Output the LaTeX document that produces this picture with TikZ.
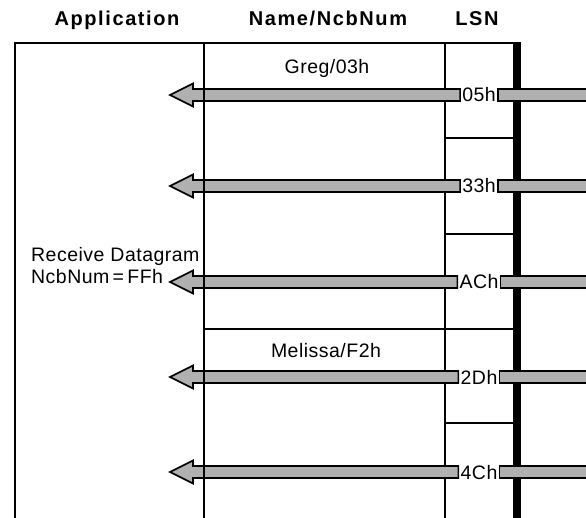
\documentclass[tikz,border=0pt]{standalone}
\usepackage{fontspec}
\setmainfont{Liberation Sans}
\newfontfamily\hdrfont[LetterSpace=8]{Liberation Sans}
\newfontfamily\bodyfont[LetterSpace=2.5]{Liberation Sans}
\tikzset{
  hdr/.style={font=\hdrfont\bfseries\fontsize{20}{24}\selectfont, anchor=base, inner sep=0pt},
  txt/.style={font=\bodyfont\fontsize{19.5}{23}\selectfont, anchor=base, inner sep=0pt},
  frame/.style={line width=2pt},
  grid/.style={line width=1.1pt},
  shaft/.style={fill=black!31, draw=black, line width=1.6pt, line join=miter},
}
\newcommand\lsnrow[3]{%
  \node[txt] (#1) at (479,#2+7) {#3};
  \path[shaft] ([xshift=-2pt]#1.west |- 0,#2-6) -- (193,#2-6) -- (193,#2-11.5) -- (170,#2)
     -- (193,#2+11.5) -- (193,#2+6) -- ([xshift=-2pt]#1.west |- 0,#2+6) -- cycle;
  \path[shaft] ([xshift=2pt]#1.east |- 0,#2-6) rectangle (592,#2+6);
}
\begin{document}
\begin{tikzpicture}[x=1pt,y=-1pt]
\useasboundingbox (0,0) rectangle (586,518);
\clip (0,0) rectangle (586,518);
\fill[white] (0,0) rectangle (586,518);
% headers
\node[hdr] (happ) at (117,26) {Application};
\node[hdr] (hname) at (328,26) {Name/NcbNum};
\node[hdr] (hlsn) at (477,26) {LSN};
% frame
\draw[frame] (15,520) -- (15,43) -- (517,43);
\draw[grid] (445,43) -- (445,520);
\draw[grid] (445,138) -- (514,138);
\draw[grid] (445,234) -- (514,234);
\draw[grid] (204,329) -- (514,329);
\draw[grid] (445,423) -- (514,423);
\fill[black] (513,42) rectangle (521,520);
% name column texts
\node[txt] (greg) at (327,74) {Greg/03h};
\node[txt] (mel) at (326,358) {Melissa/F2h};
% application texts
\node[txt, anchor=base west] (recv1) at (31,262) {Receive Datagram};
\node[txt, anchor=base west] (recv2) at (31,284) {NcbNum\,=\,FFh};
% LSN rows
\lsnrow{l1}{95}{05h}
\lsnrow{l2}{186}{33h}
\lsnrow{l3}{282}{ACh}
\lsnrow{l4}{377}{2Dh}
\lsnrow{l5}{472}{4Ch}
\draw[grid] (204,43) -- (204,520);
\end{tikzpicture}
\end{document}
